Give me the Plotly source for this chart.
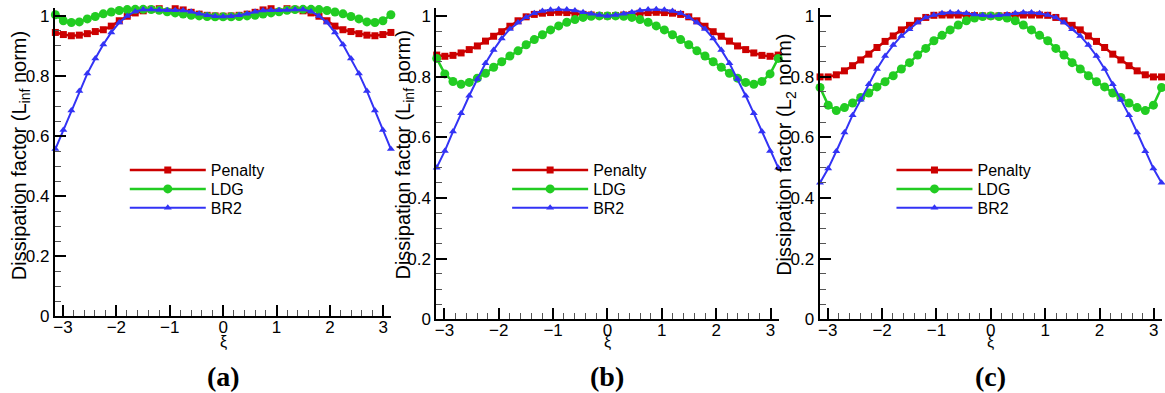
import plotly.graph_objects as go

# ---------------- data ----------------
xi = [-3.1416, -2.9920, -2.8424, -2.6928, -2.5432, -2.3936, -2.2440, -2.0944, -1.9448, -1.7952,
      -1.6456, -1.4960, -1.3464, -1.1968, -1.0472, -0.8976, -0.7480, -0.5984, -0.4488, -0.2992,
      -0.1496, 0.0000, 0.1496, 0.2992, 0.4488, 0.5984, 0.7480, 0.8976, 1.0472, 1.1968,
      1.3464, 1.4960, 1.6456, 1.7952, 1.9448, 2.0944, 2.2440, 2.3936, 2.5432, 2.6928,
      2.8424, 2.9920, 3.1416]

# panel (a)  L_inf norm
penalty_a = [0.945, 0.938, 0.934, 0.936, 0.941, 0.948, 0.954, 0.966, 0.984, 0.999, 1.010,
             1.017, 1.022, 1.024, 1.025, 1.024, 1.020, 1.012, 1.006, 1.002, 1.000, 0.999,
             1.000, 1.002, 1.006, 1.012, 1.020, 1.024, 1.025, 1.024, 1.022, 1.017, 1.010,
             0.999, 0.984, 0.966, 0.954, 0.948, 0.941, 0.936, 0.934, 0.938, 0.945]
ldg_a = [1.004, 0.984, 0.978, 0.980, 0.990, 0.998, 1.007, 1.013, 1.018, 1.021, 1.022,
         1.022, 1.021, 1.019, 1.014, 1.010, 1.006, 1.002, 1.000, 0.998, 0.997, 0.997,
         0.997, 0.998, 1.000, 1.002, 1.006, 1.010, 1.014, 1.019, 1.021, 1.022, 1.022,
         1.021, 1.018, 1.013, 1.007, 0.998, 0.990, 0.980, 0.978, 0.984, 1.004]
br2_a = [0.557, 0.620, 0.685, 0.750, 0.808, 0.858, 0.905, 0.945, 0.978, 1.000, 1.015,
         1.021, 1.021, 1.020, 1.019, 1.019, 1.018, 1.014, 1.007, 1.002, 0.999, 0.998,
         0.999, 1.002, 1.007, 1.014, 1.018, 1.019, 1.019, 1.020, 1.021, 1.021, 1.015,
         1.000, 0.978, 0.945, 0.905, 0.858, 0.808, 0.750, 0.685, 0.620, 0.557]

# panel (b)  L_inf norm
penalty_b = [0.871, 0.867, 0.870, 0.878, 0.889, 0.901, 0.917, 0.933, 0.948, 0.966, 0.984,
             0.997, 1.005, 1.009, 1.011, 1.012, 1.011, 1.009, 1.005, 1.003, 1.001, 1.000,
             1.001, 1.003, 1.005, 1.009, 1.011, 1.012, 1.011, 1.009, 1.005, 0.997, 0.984,
             0.966, 0.948, 0.933, 0.917, 0.901, 0.889, 0.878, 0.870, 0.867, 0.871]
ldg_b = [0.860, 0.809, 0.784, 0.775, 0.781, 0.795, 0.811, 0.831, 0.849, 0.868, 0.885,
         0.905, 0.922, 0.938, 0.954, 0.967, 0.979, 0.988, 0.995, 0.999, 1.000, 1.000,
         1.000, 0.999, 0.995, 0.988, 0.979, 0.967, 0.954, 0.938, 0.922, 0.905, 0.885,
         0.868, 0.849, 0.831, 0.811, 0.795, 0.781, 0.775, 0.784, 0.809, 0.860]
br2_b = [0.500, 0.555, 0.619, 0.679, 0.737, 0.792, 0.844, 0.888, 0.926, 0.957, 0.978,
         0.996, 1.009, 1.016, 1.020, 1.022, 1.021, 1.018, 1.012, 1.007, 1.003, 1.000,
         1.003, 1.007, 1.012, 1.018, 1.021, 1.022, 1.020, 1.016, 1.009, 0.996, 0.978,
         0.957, 0.926, 0.888, 0.844, 0.792, 0.737, 0.679, 0.619, 0.555, 0.500]

# panel (c)  L_2 norm
penalty_c = [0.799, 0.799, 0.806, 0.819, 0.836, 0.855, 0.874, 0.896, 0.916, 0.934, 0.954,
             0.969, 0.984, 0.995, 1.002, 1.003, 1.003, 1.003, 1.002, 1.001, 1.000, 1.000,
             1.000, 1.001, 1.002, 1.003, 1.003, 1.003, 1.002, 0.995, 0.984, 0.969, 0.954,
             0.934, 0.916, 0.896, 0.874, 0.855, 0.836, 0.819, 0.806, 0.799, 0.799]
ldg_c = [0.764, 0.706, 0.688, 0.698, 0.713, 0.731, 0.746, 0.766, 0.783, 0.803, 0.825,
         0.846, 0.871, 0.893, 0.918, 0.936, 0.954, 0.970, 0.984, 0.993, 0.998, 1.000,
         0.998, 0.993, 0.984, 0.970, 0.954, 0.936, 0.918, 0.893, 0.871, 0.846, 0.825,
         0.803, 0.783, 0.766, 0.746, 0.731, 0.713, 0.698, 0.688, 0.706, 0.764]
br2_c = [0.450, 0.497, 0.554, 0.616, 0.673, 0.724, 0.775, 0.825, 0.868, 0.904, 0.934,
         0.956, 0.978, 0.995, 1.003, 1.009, 1.011, 1.011, 1.009, 1.005, 1.002, 1.000,
         1.002, 1.005, 1.009, 1.011, 1.011, 1.009, 1.003, 0.995, 0.978, 0.956, 0.934,
         0.904, 0.868, 0.825, 0.775, 0.724, 0.673, 0.616, 0.554, 0.497, 0.450]

series_names = ["Penalty", "LDG", "BR2"]
panel_labels = ["(a)", "(b)", "(c)"]
y_titles = ["Dissipation factor (L<sub>inf</sub> norm)",
            "Dissipation factor (L<sub>inf</sub> norm)",
            "Dissipation factor (L<sub>2</sub> norm)"]
x_title = "ξ"

# ---------------- style ----------------
W, H = 1165, 393          # target picture size (layout positions below are in these pixels)
FIG_H = 402               # figure height (captured area is squeezed to 393)
FONT = "Liberation Sans, Arial, sans-serif"
colors = ["rgb(204,0,0)", "rgb(34,204,34)", "rgb(51,51,245)"]
symbols = ["square", "circle", "triangle-up"]
msizes = [7, 9, 7]
lwidths = [2.5, 2.5, 2]

def fx(p):  # pixel -> paper x
    return min(max(p / W, 0), 1)

def fy(p):  # pixel -> paper y
    return min(max(1 - p / H, 0), 1)

# panel geometry in pixels: (left, right, top, y=1 pixel, bottom)
geo = [(53, 390, 7.5, 15, 317), (435, 778, 7.5, 15, 320), (819, 1162, 7.5, 15, 320)]
legend_x = [123, 506, 891]
legend_rows = [170, 189, 208]
ytitle_x = [18, 403, 785]

data_sets = [[penalty_a, ldg_a, br2_a], [penalty_b, ldg_b, br2_b], [penalty_c, ldg_c, br2_c]]

fig = go.Figure()
layout = dict(width=W, height=FIG_H, margin=dict(l=0, r=0, t=0, b=0), autosize=False,
              paper_bgcolor="white", plot_bgcolor="white", showlegend=True,
              annotations=[])

for p in range(3):
    sfx = "" if p == 0 else str(p + 1)
    for s in range(3):
        n = p * 3 + s
        leg = "legend" if n == 0 else "legend" + str(n + 1)
        fig.add_trace(go.Scatter(
            x=xi, y=data_sets[p][s], name=series_names[s], mode="lines+markers",
            line=dict(color=colors[s], width=lwidths[s]),
            marker=dict(symbol=symbols[s], size=msizes[s], color=colors[s]),
            xaxis="x" + sfx, yaxis="y" + sfx, legend=leg, cliponaxis=False))
        layout[leg] = dict(x=fx(legend_x[p]), y=fy(legend_rows[s]), xanchor="left", yanchor="middle",
                           bgcolor="rgba(0,0,0,0)", itemwidth=76,
                           font=dict(family=FONT, size=16, color="black"))
    l, r, t, one, b = geo[p]
    ytop = 1 + (one - t) / (b - one)
    layout["xaxis" + sfx] = dict(
        domain=[fx(l), fx(r)], anchor="y" + sfx, range=[-3.15, 3.15],
        showline=True, linecolor="black", linewidth=2, showgrid=False, zeroline=False,
        ticks="inside", ticklen=11, tickwidth=2, tickcolor="black", ticklabeloverflow="allow",
        ticklabelstandoff=-6,
        tick0=0, dtick=1, tickfont=dict(family=FONT, size=17, color="black"),
        minor=dict(ticks="inside", dtick=0.2, tick0=0, ticklen=6, tickwidth=1, tickcolor="#555"))
    layout["yaxis" + sfx] = dict(
        domain=[fy(b), fy(t)], anchor="x" + sfx, range=[0, ytop],
        showline=True, linecolor="black", linewidth=2, showgrid=False, zeroline=False,
        ticks="inside", ticklen=11, tickwidth=2, tickcolor="black", ticklabeloverflow="allow",
        tick0=0, dtick=0.2, tickfont=dict(family=FONT, size=17, color="black"),
        minor=dict(ticks="inside", dtick=0.05, tick0=0, ticklen=6, tickwidth=1, tickcolor="#555"))
    xc = l + (r - l) * 3.15 / 6.3
    layout["annotations"] += [
        dict(text=y_titles[p], x=fx(ytitle_x[p]), y=fy(155), xref="paper", yref="paper",
             textangle=-90, showarrow=False, xanchor="center", yanchor="middle",
             font=dict(family=FONT, size=20, color="black")),
        dict(text=x_title, x=fx(xc), y=fy(343), xref="paper", yref="paper",
             showarrow=False, xanchor="center", yanchor="middle",
             font=dict(family=FONT, size=16, color="black")),
        dict(text="<b>" + panel_labels[p] + "</b>", x=fx(xc), y=fy(377), xref="paper", yref="paper",
             showarrow=False, xanchor="center", yanchor="middle",
             font=dict(family="Liberation Serif, Times New Roman, serif", size=28, color="black")),
    ]

fig.update_layout(**layout)
fig.write_html("out.html", config={"displayModeBar": False},
               post_script="document.body.style.margin='0px';document.body.style.overflow='hidden';")
